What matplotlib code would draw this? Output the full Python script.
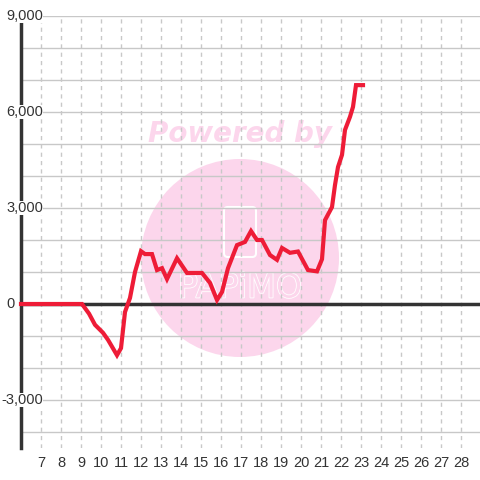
import matplotlib
matplotlib.use("Agg")
import matplotlib.pyplot as plt
import matplotlib.transforms as mtransforms
from matplotlib.patches import Circle, FancyBboxPatch
import matplotlib.patheffects as pe

plt.rcParams['font.family'] = ['Liberation Sans', 'DejaVu Sans']

# data: hour of day vs cumulative value
hours = [6, 7, 8, 9.05, 9.4, 9.7, 10.1, 10.35, 10.8, 11.0, 11.2, 11.45, 11.7, 12.0,
         12.2, 12.55, 12.8, 13.05, 13.3, 13.8, 14.3, 15.05, 15.45, 15.8, 16.05,
         16.35, 16.8, 17.2, 17.5, 17.8, 18.05, 18.45, 18.8, 19.05, 19.45, 19.85,
         20.35, 20.8, 21.05, 21.2, 21.55, 21.7, 21.85, 22.05, 22.2, 22.45, 22.6,
         22.75, 23.1]
values = [0, 0, 0, 0, -300, -650, -900, -1120, -1600, -1380, -250, 190, 1000, 1650,
          1560, 1560, 1060, 1120, 780, 1430, 970, 970, 660, 125, 375,
          1120, 1840, 1940, 2280, 2000, 2000, 1530, 1380, 1750, 1600, 1640,
          1060, 1020, 1400, 2620, 3030, 3720, 4280, 4660, 5440, 5850, 6160,
          6840, 6840]

x_ticks = list(range(7, 29))
y_labels = [9000, 6000, 3000, 0, -3000]

fig = plt.figure(figsize=(4.8, 4.8), dpi=100)
ax = fig.add_axes([21 / 480, 32 / 480, 459 / 480, 432 / 480])
ax.set_xlim(6, 28.95)
ax.set_ylim(-4500, 9000)
ax.set_axisbelow(True)

# watermark
circ = Circle((0.5, 1 - 258 / 480), 99 / 480, transform=fig.transFigure,
              facecolor='#fcd6ec', edgecolor='none', zorder=0.2)
ax.add_patch(circ)
phone = FancyBboxPatch((224 / 480, 1 - 257 / 480), 32 / 480, 50 / 480,
                       boxstyle='round,pad=0,rounding_size=0.008',
                       transform=fig.transFigure, facecolor='none',
                       edgecolor='white', lw=1.5, zorder=0.3)
ax.add_patch(phone)
ax.text(0.5, 1 - 288 / 480, 'PAPiMO', transform=fig.transFigure,
        ha='center', va='center', fontsize=24, family='DejaVu Sans',
        color='#fcd6ec', zorder=0.3,
        path_effects=[pe.Stroke(linewidth=1.2, foreground='white'), pe.Normal()])
ax.text(0.5, 1 - 134 / 480, 'Powered by', transform=fig.transFigure,
        ha='center', va='center', fontsize=20, family='DejaVu Sans',
        fontweight='bold', style='italic', color='#fcd6ec', zorder=0.3)

# grid
ax.set_yticks(range(-4000, 9001, 1000))
ax.set_xticks(x_ticks)
ax.yaxis.grid(True, color='#c8c8c8', lw=1, ls='-')
ax.xaxis.grid(True, color='#c8c8c8', lw=1, ls=(0, (3, 3)))
ax.tick_params(axis='y', length=0, labelleft=False)
ax.tick_params(axis='x', length=0, pad=6, labelsize=10.5, labelcolor='#333333')

for s in ['top', 'right', 'bottom']:
    ax.spines[s].set_visible(False)
ax.spines['left'].set_color('#333333')
ax.spines['left'].set_linewidth(2.5)
ax.axhline(0, color='#333333', lw=2.5, zorder=2)

label_tr = mtransforms.blended_transform_factory(fig.transFigure, ax.transData)
for v in y_labels:
    xp = 15 / 480 if v == 0 else 43 / 480
    t = ax.text(xp, v, f'{v:,}', transform=label_tr,
                ha='right', va='center', fontsize=10.5, color='#333333',
                zorder=6, clip_on=False)
    if v != 0:
        t.set_bbox(dict(facecolor='white', edgecolor='none', pad=0))

ax.plot(hours, values, color='#ee1c37', lw=3, zorder=5, clip_on=False,
        solid_joinstyle='miter')

fig.savefig('out.png', dpi=100)
